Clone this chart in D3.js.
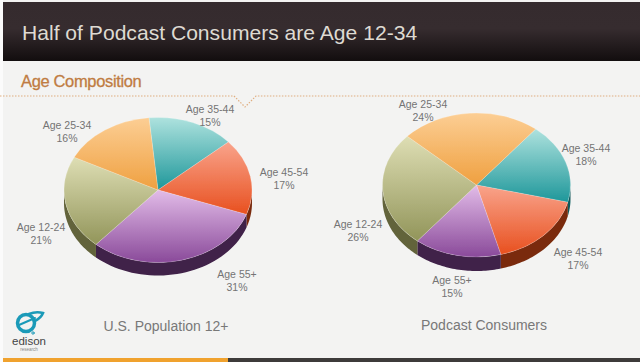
<!DOCTYPE html>
<html><head><meta charset="utf-8">
<script src="https://cdn.jsdelivr.net/npm/d3@7"></script>
<style>html,body{margin:0;padding:0;background:#f3f3f2}svg{display:block}text{font-family:"Liberation Sans",Arial,sans-serif}</style>
</head><body><svg id="c" width="640" height="362"></svg>
<script>
const categories = ["Age 35-44","Age 45-54","Age 55+","Age 12-24","Age 25-34"];
const populationValues = [15,17,31,21,16];
const podcastValues = [18,17,15,26,24];
const chartTitle = "Half of Podcast Consumers are Age 12-34";
const sectionTitle = "Age Composition";
const captions = ["U.S. Population 12+","Podcast Consumers"];
const topColors = ["#aee2de","#f9a48c","#e2bce8","#dedeb4","#fcce94"];
const bottomColors = ["#1e979a","#e8501f","#8a4a9a","#92955a","#efa040"];
const wallColors = ["#0f5a5c","#7a2c10","#3f2048","#62633a","#8a5a20"];

const svg = d3.select("#c");
const defs = svg.append("defs");
const blur = defs.append("filter").attr("id","soft").attr("x","-5%").attr("y","-5%").attr("width","110%").attr("height","110%");
blur.append("feGaussianBlur").attr("stdDeviation",0.5);
const hdr = defs.append("linearGradient").attr("id","hdr").attr("x1",0).attr("x2",0).attr("y1",0).attr("y2",1);
hdr.append("stop").attr("offset",0).attr("stop-color","#352b2e");
hdr.append("stop").attr("offset",.45).attr("stop-color","#362c2f");
hdr.append("stop").attr("offset",1).attr("stop-color","#120d0e");
categories.forEach((c,i)=>{
  const g = defs.append("linearGradient").attr("id","g"+i).attr("x1",0).attr("x2",0).attr("y1",0).attr("y2",1);
  g.append("stop").attr("offset",0).attr("stop-color",topColors[i]);
  g.append("stop").attr("offset",1).attr("stop-color",bottomColors[i]);
});

svg.append("rect").attr("width",640).attr("height",362).attr("fill","#f3f3f2");
svg.append("rect").attr("width",3).attr("height",362).attr("fill","#fbfbfb");
svg.append("rect").attr("x",3).attr("y",2).attr("width",637).attr("height",59).attr("fill","url(#hdr)");
svg.append("text").attr("x",22).attr("y",40).attr("font-size",21.1).attr("fill","#dedad2").text(chartTitle);
svg.append("text").attr("x",21).attr("y",87).attr("font-size",16.5).attr("letter-spacing",-.35).attr("stroke","#c07c42").attr("stroke-width",.3).attr("fill","#c07c42").text(sectionTitle);

svg.append("path").attr("fill","none").attr("stroke","#e0ae80").attr("stroke-width",1.2).attr("stroke-dasharray","1.5 1.5")
  .attr("d",d3.line()([[0,96],[234,96],[245,107],[256,96],[640,96]]));

svg.append("rect").attr("x",3).attr("y",358).attr("width",225).attr("height",4).attr("fill","#f0a22e");
svg.append("rect").attr("x",228).attr("y",358).attr("width",412).attr("height",4).attr("fill","#3d3b3a");

function drawPie(values, o, labelPos){
  const g = svg.append("g").attr("filter","url(#soft)");
  const start = o.start*Math.PI/180;
  const arcs = d3.pie().sort(null).startAngle(start).endAngle(start+2*Math.PI)(values);
  const k = o.ry/o.rx;
  const pt = (a,dy)=>[o.cx+o.rx*Math.sin(a), o.cy-o.ry*Math.cos(a)+dy];
  const line = d3.line();
  arcs.forEach((a,i)=>{
    [0,2*Math.PI].forEach(shift=>{
      const a0=Math.max(a.startAngle,Math.PI/2+shift), a1=Math.min(a.endAngle,1.5*Math.PI+shift);
      if(a1<=a0) return;
      const angles=d3.range(0,41).map(t=>a0+(a1-a0)*t/40);
      const p=angles.map(t=>pt(t,0)).concat(angles.slice().reverse().map(t=>pt(t,o.depth)));
      g.append("path").attr("d",line(p)+"Z").attr("fill",wallColors[i]);
    });
  });
  const arc = d3.arc().innerRadius(0).outerRadius(o.rx);
  arcs.forEach((a,i)=>{
    g.append("path")
      .attr("transform",`translate(${o.cx},${o.cy}) scale(1,${k})`)
      .attr("d",arc(a)).attr("fill","url(#g"+i+")")
      .attr("stroke","#ffffff").attr("stroke-opacity",.35).attr("stroke-width",.6);
  });
  labelPos.forEach((p,i)=>{
    const t = svg.append("text").attr("text-anchor","middle").attr("font-size",10.5).attr("fill","#747474");
    t.append("tspan").attr("x",p[0]).attr("y",p[1]).text(categories[i]);
    t.append("tspan").attr("x",p[0]).attr("y",p[1]+12.5).text(values[i]+"%");
  });
}
drawPie(populationValues,{cx:158,cy:190,rx:94,ry:72.5,depth:13,start:-5.5},
  [[210,113],[284,176],[237,278],[41,231],[67,129]]);
drawPie(podcastValues,{cx:476.5,cy:185,rx:94,ry:72,depth:14,start:39},
  [[586,152],[578,256],[452,284],[358,228],[423,108]]);

svg.selectAll(".cap").data(captions).join("text").attr("class","cap")
  .attr("x",(d,i)=>[166,484][i]).attr("y",(d,i)=>[331,330][i])
  .attr("text-anchor","middle").attr("font-size",14).attr("fill","#787878").text(d=>d);

const logo = svg.append("g").attr("fill","none").attr("stroke","#1b9ab8").attr("stroke-linecap","round");
logo.append("circle").attr("cx",26).attr("cy",323).attr("r",8.5).attr("stroke-width",3.5);
logo.append("path").attr("stroke-width",2).attr("d","M19 325 L35 318");
logo.append("path").attr("stroke-width",2.6).attr("d","M29 314 Q36 311 43 313 Q41 318 35 321");
logo.append("circle").attr("cx",33).attr("cy",333).attr("r",1.2).attr("stroke-width",1);
svg.append("text").attr("x",29).attr("y",345).attr("text-anchor","middle").attr("font-size",11.5).attr("fill","#444").text("edison");
svg.append("text").attr("x",29).attr("y",351).attr("text-anchor","middle").attr("font-size",4.5).attr("fill","#888").text("research");
</script></body></html>
